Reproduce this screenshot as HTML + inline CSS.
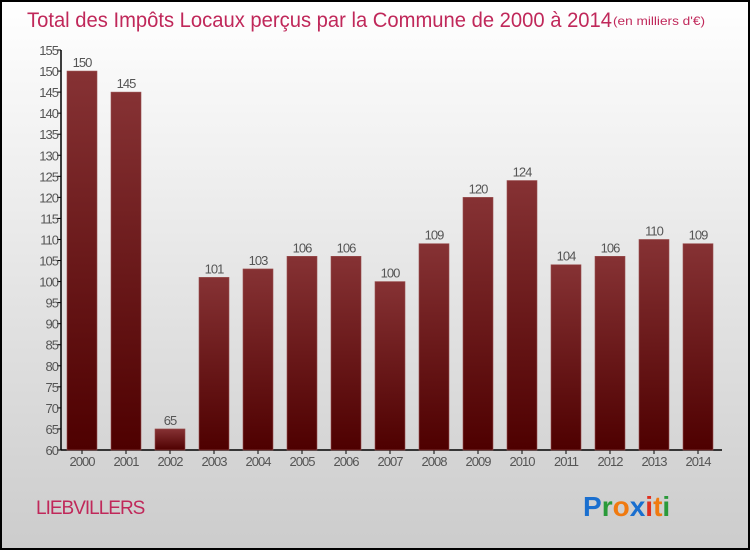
<!DOCTYPE html>
<html><head><meta charset="utf-8"><style>
html,body{margin:0;padding:0}
body{width:750px;height:550px;overflow:hidden;font-family:"Liberation Sans",sans-serif}
</style></head><body>
<svg id="chart" width="750" height="550" xmlns="http://www.w3.org/2000/svg">
<defs>
<linearGradient id="bg" x1="0" y1="0" x2="0" y2="1"><stop offset="0" stop-color="#ffffff"/><stop offset="1" stop-color="#cccccc"/></linearGradient>
<linearGradient id="bar" x1="0" y1="0" x2="0" y2="1"><stop offset="0" stop-color="#863234"/><stop offset="1" stop-color="#4e0000"/></linearGradient>
</defs>
<rect x="1" y="1" width="748" height="548" fill="url(#bg)" stroke="#000" stroke-width="2"/>
<text x="27" y="27" font-size="21" fill="#c0285a" textLength="585" lengthAdjust="spacingAndGlyphs">Total des Impôts Locaux perçus par la Commune de 2000 à 2014</text>
<text x="613" y="25" font-size="12" fill="#c0285a" textLength="92" lengthAdjust="spacingAndGlyphs">(en milliers d'€)</text>
<g id="axes"></g>
<g id="bars"></g>
<text x="36" y="514" font-size="19" fill="#c0285a" letter-spacing="-1">LIEBVILLERS</text>
<g font-size="28" font-weight="bold" font-family="'Liberation Sans',sans-serif">
<text x="583" y="516" fill="#1a6fcf">P<tspan fill="#2a9a3a">r</tspan><tspan fill="#f07a10">o</tspan><tspan fill="#1a6fcf">x</tspan><tspan fill="#e03020">i</tspan><tspan fill="#f07a10">t</tspan><tspan fill="#2a9a3a">i</tspan></text>
</g>
</svg>
<script>
const years=["2000","2001","2002","2003","2004","2005","2006","2007","2008","2009","2010","2011","2012","2013","2014"];
const values=[150,145,65,101,103,106,106,100,109,120,124,104,106,110,109];
const yTicks=[60,65,70,75,80,85,90,95,100,105,110,115,120,125,130,135,140,145,150,155];
const NS="http://www.w3.org/2000/svg";
const y0=450,y1=50,vmin=60,vmax=155;
function yScale(v){return y0-(v-vmin)*(y0-y1)/(vmax-vmin);}
function xScale(i){return 82+i*44;}
function mk(t,a,p){const e=document.createElementNS(NS,t);for(const k in a)e.setAttribute(k,a[k]);p.appendChild(e);return e;}
const axes=document.getElementById('axes'),bars=document.getElementById('bars');
const yl=mk('line',{x1:61,y1:y1,x2:61,y2:y0,stroke:'#000','stroke-width':1.5},axes);


const xl=mk('line',{x1:61,y1:y0,x2:722,y2:y0,stroke:'#000','stroke-width':1.5},axes);


yTicks.forEach(v=>{
 const y=yScale(v);
 mk('line',{x1:57,y1:y,x2:61,y2:y,stroke:'#000'},axes);
 const t=mk('text',{x:58,y:y+5,'text-anchor':'end','font-size':13,fill:'#555','letter-spacing':'-1'},axes);
 t.textContent=v;
 
 
});
years.forEach((yr,i)=>{
 const cx=xScale(i),v=values[i],y=yScale(v);
 const r=mk('rect',{x:cx-15,y:y,width:30,height:y0-y,fill:'url(#bar)',stroke:'#9a5050','stroke-width':0.6},bars);
 
 
 const l=mk('text',{x:cx,y:y-4,'text-anchor':'middle','font-size':13,fill:'#555','letter-spacing':'-1'},bars);
 l.textContent=v;
 
 
 mk('line',{x1:cx,y1:y0,x2:cx,y2:y0+4,stroke:'#000'},axes);
 const xt=mk('text',{x:cx,y:y0+16,'text-anchor':'middle','font-size':13,fill:'#555','letter-spacing':'-1'},axes);
 xt.textContent=yr;
 
 
});
</script>
</body></html>
